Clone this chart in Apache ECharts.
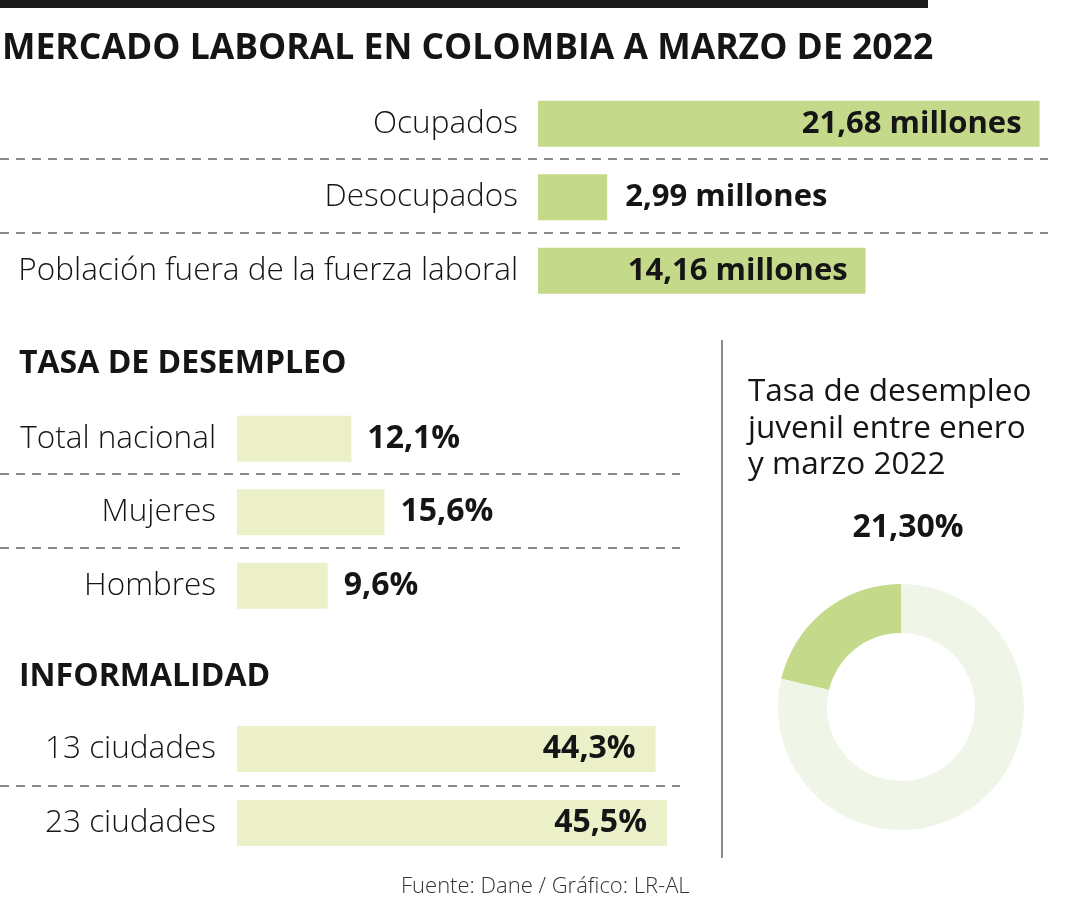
<!DOCTYPE html>
<html><head><meta charset="utf-8">
<script src="https://cdn.jsdelivr.net/npm/echarts@6/dist/echarts.min.js"></script>
<style>html,body{margin:0;padding:0;background:#fff}#c{width:1080px;height:900px}</style>
</head><body><div id="c"></div>
<script>
// ---- data ----
const mercadoCats = ['Ocupados', 'Desocupados', 'Población fuera de la fuerza laboral'];
const mercadoVals = [21.68, 2.99, 14.16];
const desempleoCats = ['Total nacional', 'Mujeres', 'Hombres'];
const desempleoVals = [12.1, 15.6, 9.6];
const informalCats = ['13 ciudades', '23 ciudades'];
const informalVals = [44.3, 45.5];
const juvenilVal = 21.3;

// ---- styles ----
const FONT = '"Open Sans", "Noto Sans", sans-serif';
const LABEL_FONT = '"Open Sans", "Noto Sans", sans-serif';
const TXT = '#151515';
const GREEN = '#c5d98a';
const PALE = '#ecf0c9';
const DONUT_BG = '#eff6e7';
const SEP = '#8a8a8a';

const fmtComma = (v, d) => v.toFixed(d).replace('.', ',');

const chart = echarts.init(document.getElementById('c'), null, {renderer: 'canvas'});

function catAxis(gridIndex, cats, margin, size) {
  return {
    type: 'category', gridIndex, data: cats, inverse: true,
    axisLine: {show: false}, axisTick: {show: false}, splitLine: {show: false},
    axisLabel: {margin, fontFamily: LABEL_FONT, fontWeight: 300, fontSize: size, color: TXT}
  };
}
function valAxis(gridIndex, max) {
  return {type: 'value', gridIndex, min: 0, max, show: false, splitLine: {show: false}};
}

const mercadoData = mercadoVals.map(v => ({
  value: v,
  label: v > 5
    ? {position: 'insideRight', distance: 18}
    : {position: 'right', distance: 18}
}));

const dashLine = (x1, x2, y) => ({
  type: 'line', shape: {x1, y1: y, x2, y2: y},
  style: {stroke: SEP, lineWidth: 2, lineDash: [9, 7]}
});

const option = {
  backgroundColor: '#fff',
  animation: false,
  textStyle: {fontFamily: FONT},
  title: [
    {text: 'MERCADO LABORAL EN COLOMBIA A MARZO DE 2022', left: 2, top: 31, padding: 0,
     textStyle: {fontFamily: FONT, fontWeight: 'bold', fontSize: 35.5, color: TXT}},
    {text: 'TASA DE DESEMPLEO', left: 19, top: 348, padding: 0,
     textStyle: {fontFamily: FONT, fontWeight: 'bold', fontSize: 32, color: TXT}},
    {text: 'INFORMALIDAD', left: 19, top: 661, padding: 0,
     textStyle: {fontFamily: FONT, fontWeight: 'bold', fontSize: 32, color: TXT}},
    {text: 'Tasa de desempleo\njuvenil entre enero\ny marzo 2022', left: 748, top: 374, padding: 0,
     textStyle: {fontFamily: FONT, fontWeight: 'normal', fontSize: 31.5, lineHeight: 36.5, color: TXT}},
    {text: 'Fuente: Dane / Gráfico: LR-AL', left: 401, top: 876, padding: 0,
     textStyle: {fontFamily: FONT, fontWeight: 300, fontSize: 22, color: '#333'}}
  ],
  grid: [
    {left: 538, top: 87, width: 509, height: 220.5},
    {left: 237, top: 402, width: 472.5, height: 220.5},
    {left: 237, top: 712, width: 472.5, height: 148}
  ],
  xAxis: [valAxis(0, 22), valAxis(1, 50), valAxis(2, 50)],
  yAxis: [catAxis(0, mercadoCats, 20, 31.5), catAxis(1, desempleoCats, 21, 31.5), catAxis(2, informalCats, 21, 31.5)],
  series: [
    {type: 'bar', xAxisIndex: 0, yAxisIndex: 0, data: mercadoData, barWidth: 46,
     itemStyle: {color: GREEN},
     label: {show: true, fontFamily: FONT, fontWeight: 'bold', fontSize: 31, color: TXT,
             formatter: p => fmtComma(p.value, 2) + ' millones'}},
    {type: 'bar', xAxisIndex: 1, yAxisIndex: 1, data: desempleoVals, barWidth: 46,
     itemStyle: {color: PALE},
     label: {show: true, position: 'right', distance: 16, fontFamily: FONT, fontWeight: 'bold', fontSize: 32, color: TXT,
             formatter: p => fmtComma(p.value, 1) + '%'}},
    {type: 'bar', xAxisIndex: 2, yAxisIndex: 2, data: informalVals, barWidth: 46,
     itemStyle: {color: PALE},
     label: {show: true, position: 'insideRight', distance: 20, fontFamily: FONT, fontWeight: 'bold', fontSize: 32, color: TXT,
             formatter: p => fmtComma(p.value, 1) + '%'}},
    {type: 'pie', center: [901, 707], radius: [74, 123], startAngle: 90, clockwise: false,
     silent: true, label: {show: false}, labelLine: {show: false},
     data: [
       {value: juvenilVal, name: 'Juvenil', itemStyle: {color: GREEN}},
       {value: 100 - juvenilVal, name: 'Resto', itemStyle: {color: DONUT_BG}}
     ]}
  ],
  graphic: [
    {type: 'rect', shape: {x: 0, y: 0, width: 928, height: 8}, style: {fill: '#1a1a1a'}},
    dashLine(0, 1048, 159),
    dashLine(0, 1048, 233),
    dashLine(0, 680, 474),
    dashLine(0, 680, 548),
    dashLine(0, 680, 786),
    {type: 'line', shape: {x1: 722, y1: 340, x2: 722, y2: 858}, style: {stroke: SEP, lineWidth: 2}},
    {type: 'text', x: 908, y: 528,
     style: {text: fmtComma(juvenilVal, 2) + '%', fill: TXT, font: 'bold 32px ' + FONT,
             textAlign: 'center', textVerticalAlign: 'middle'}}
  ]
};
chart.setOption(option);
</script>
</body></html>
